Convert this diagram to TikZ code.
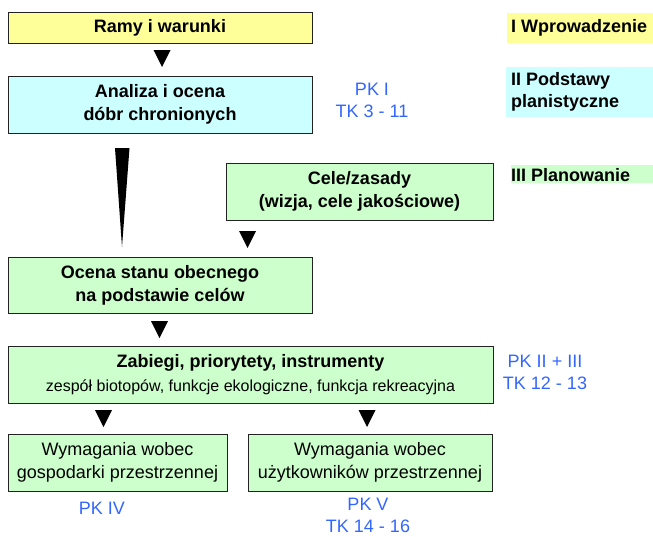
\documentclass[tikz,border=0pt]{standalone}
\usepackage{fontspec}
\setmainfont{Liberation Sans}
\definecolor{cyellow}{HTML}{FFFF99}
\definecolor{ccyan}{HTML}{CCFFFF}
\definecolor{cgreen}{HTML}{CCFFCC}
\definecolor{cblue}{HTML}{3366FF}
\definecolor{cframe}{HTML}{222222}
\tikzset{
  box/.style={draw=cframe, line width=0.9pt, inner sep=0pt, align=center,
    font=\fontsize{18}{23}\selectfont},
  bluetxt/.style={text=cblue, align=center, inner sep=0pt, font=\fontsize{18}{22}\selectfont},
  sidetxt/.style={inner sep=0pt, align=left, anchor=west, font=\fontsize{18}{22}\selectfont\bfseries},
  pics/downtri/.style={code={\fill[black] (-8.5,0) -- (8.5,0) -- (0,17) -- cycle;}}
}
\begin{document}
\begin{tikzpicture}[x=1pt,y=-1pt]
\useasboundingbox (0,0) rectangle (653,536);
% boxes
\node[box, fill=cyellow, minimum width=304pt, minimum height=31pt, font=\fontsize{18}{23}\selectfont\bfseries] (ramy) at (160,27.5) {Ramy i warunki};
\node[box, fill=ccyan, minimum width=304pt, minimum height=57pt, font=\fontsize{18}{23}\selectfont\bfseries] (analiza) at (160,104.5) {Analiza i ocena\\dóbr chronionych};
\node[box, fill=cgreen, minimum width=267pt, minimum height=57pt, font=\fontsize{18}{23}\selectfont\bfseries] (cele) at (359.5,191.5) {Cele/zasady\\(wizja, cele jakościowe)};
\node[box, fill=cgreen, minimum width=304pt, minimum height=56pt, font=\fontsize{18}{23}\selectfont\bfseries] (ocena) at (160,285) {Ocena stanu obecnego\\na podstawie celów};
\node[box, fill=cgreen, minimum width=485pt, minimum height=57pt] (zab) at (250.5,374.5) {};
\node[font=\fontsize{18}{23}\selectfont\bfseries, inner sep=0pt] (zabt) at (250.5,363) {Zabiegi, priorytety, instrumenty};
\node[font=\fontsize{16}{19}\selectfont, inner sep=0pt] (zabs) at (250.5,387) {zespół biotopów, funkcje ekologiczne, funkcja rekreacyjna};
\node[box, fill=cgreen, minimum width=219pt, minimum height=57pt] (wym1) at (117.5,462.5) {Wymagania wobec\\gospodarki przestrzennej};
\node[box, fill=cgreen, minimum width=244pt, minimum height=57pt] (wym2) at (370,462.5) {Wymagania wobec\\użytkowników przestrzennej};
% triangles
\pic at (162,50) {downtri};
\pic at (247.5,231) {downtri};
\pic at (159.5,321) {downtri};
\pic at (103.5,410) {downtri};
\pic at (367,410) {downtri};
% wedge
\fill[black] (115,148) -- (129.5,148) -- (122,247) -- cycle;
% blue labels
\node[bluetxt] (pk1) at (372,100) {PK I\\TK 3 - 11};
\node[bluetxt] (pk23) at (545,372.5) {PK II + III\\TK 12 - 13};
\node[bluetxt] (pk4) at (102,508) {PK IV};
\node[bluetxt] (pk5) at (368,515.5) {PK V\\TK 14 - 16};
% side labels
\fill[cyellow] (507,13) rectangle (653,43);
\node[sidetxt] (s1) at (511,28) {I Wprowadzenie};
\fill[ccyan] (506,67) rectangle (653,117);
\node[sidetxt] (s2) at (511,92) {II Podstawy\\planistyczne};
\fill[cgreen] (511,165) rectangle (653,183);
\node[sidetxt] (s3) at (511,175) {III Planowanie};
\end{tikzpicture}
\end{document}
